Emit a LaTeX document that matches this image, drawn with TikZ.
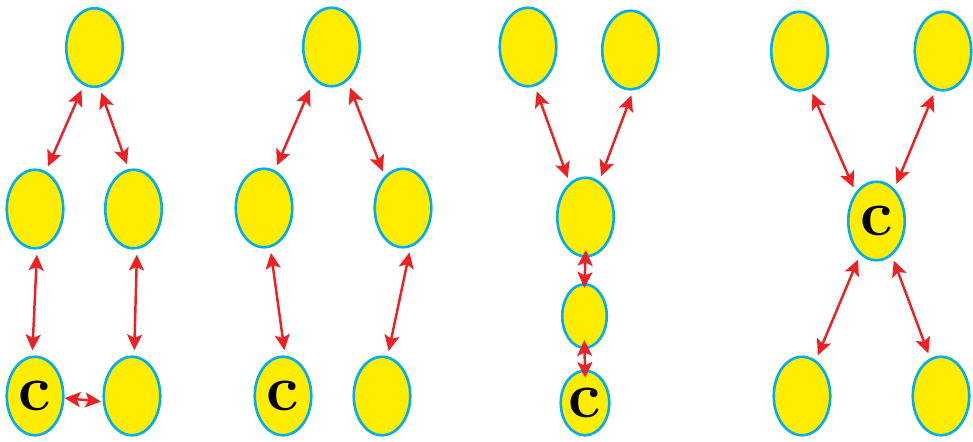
\documentclass[tikz,border=0pt]{standalone}
\usepackage{fontspec}
\usetikzlibrary{arrows.meta,shapes.geometric}
\definecolor{blobyellow}{RGB}{255,237,0}
\definecolor{blobcyan}{RGB}{0,174,239}
\definecolor{linkred}{RGB}{237,32,36}

\begin{document}
\begin{tikzpicture}[x=0.02cm,y=-0.02cm,
    blob/.style={ellipse,draw=blobcyan,fill=blobyellow,line width=1.5pt,inner sep=0pt,
      minimum width=1.13cm,minimum height=1.57cm},
    smallblob/.style={blob,minimum width=0.89cm,minimum height=1.27cm},
    cblob/.style={blob,font=\bfseries\fontsize{37}{37}\selectfont},
    link/.style={linkred,line width=1.4pt,
      {Stealth[length=9pt,width=8.5pt,inset=2pt]}-{Stealth[length=9pt,width=8.5pt,inset=2pt]},
      shorten <=3pt,shorten >=3pt}]
  \useasboundingbox (0,0) rectangle (973,441);

  % Panel 1: ring with two branches
  \node[blob] (p1t) at (94.5,47.5) {};
  \node[blob] (p1ml) at (35,209) {};
  \node[blob] (p1mr) at (133.5,209) {};
  \node[cblob] (p1bl) at (35,396) {c};
  \node[blob] (p1br) at (132,396) {};
  \draw[link] (p1t.254) -- (p1ml.74);
  \draw[link] (p1t.277) -- (p1mr.97);
  \draw[link] (p1ml.273) -- (p1bl.94);
  \draw[link] (p1mr.275) -- (p1br.87);
  \draw[link,shorten <=0pt,shorten >=1pt] (p1bl.356) -- (p1br.191);

  % Panel 2: two open branches
  \node[blob] (p2t) at (331.5,47) {};
  \node[blob] (p2ml) at (264,208) {};
  \node[blob] (p2mr) at (403,208) {};
  \node[cblob] (p2bl) at (283,396) {c};
  \node[blob] (p2br) at (382,396) {};
  \draw[link,shorten <=6pt] (p2t.242) -- (p2ml.74);
  \draw[link,shorten <=4pt] (p2t.295) -- (p2mr.120);
  \draw[link] (p2ml.279) -- (p2bl.87);
  \draw[link] (p2mr.281) -- (p2br.82);

  % Panel 3: fork into a chain
  \node[blob] (p3tl) at (528,47) {};
  \node[blob] (p3tr) at (630.5,50) {};
  \node[blob] (p3m) at (585.5,217) {};
  \node[smallblob] (p3s) at (584.5,316) {};
  \node[cblob,minimum width=0.97cm,minimum height=1.29cm] (p3b) at (585,403) {c};
  \draw[link] (p3tl.280) -- (p3m.115);
  \draw[link] (p3tr.274) -- (p3m.69);
  \draw[link,shorten <=-4.3pt,shorten >=-2.8pt] (p3m.south) -- (p3s.north);
  \draw[link,shorten <=-5.1pt,shorten >=-4.8pt] (p3s.south) -- (p3b.north);

  % Panel 4: star round the centre
  \node[blob] (p4tl) at (799.5,51) {};
  \node[blob] (p4tr) at (943,51) {};
  \node[cblob] (p4c) at (876.5,221) {c};
  \node[blob] (p4bl) at (802,396) {};
  \node[blob] (p4br) at (941,396) {};
  \draw[link] (p4tl.286) -- (p4c.126);
  \draw[link] (p4tr.259) -- (p4c.61);
  \draw[link] (p4c.244) -- (p4bl.69);
  \draw[link] (p4c.294) -- (p4br.106);
\end{tikzpicture}
\end{document}
